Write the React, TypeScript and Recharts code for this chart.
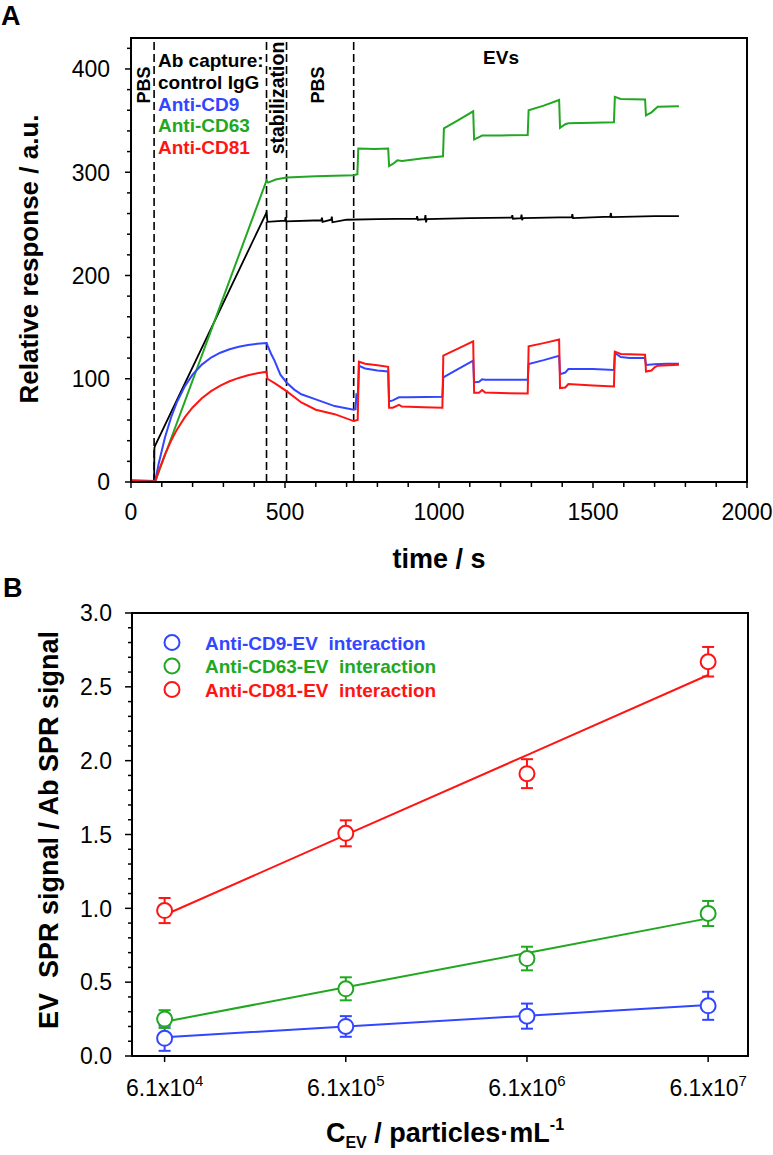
import React from 'react';
import {
  LineChart,
  ComposedChart,
  Line,
  Scatter,
  ErrorBar,
  XAxis,
  YAxis,
  ReferenceLine,
  ReferenceArea,
} from 'recharts';

const BLUE = '#3346ff';
const GREEN = '#22a722';
const RED = '#ff1414';
const FONT = '"Liberation Sans", Arial, sans-serif';

// Panel A: sensorgrams, [time / s, response / a.u.]
const controlIgG: [number, number][] = [
  [0, 0.5], [75, 0.5], [76, 33], [78, 35], [440, 261], [443, 252], [500, 253], [502, 256.5],
  [504, 252.5], [618, 253.5], [620, 256], [622, 252], [650, 254], [652, 257], [654, 251.5],
  [700, 254], [800, 254.5], [927, 255], [929, 257.5], [931, 254], [954, 254.5], [956, 258.5],
  [958, 251.5], [960, 254.5], [1100, 255.5], [1236, 256], [1238, 258.5], [1240, 255],
  [1266, 255.5], [1268, 259], [1270, 253.5], [1272, 255.5], [1431, 256.5], [1433, 259.5],
  [1435, 255.5], [1556, 257], [1558, 260.5], [1560, 256.5], [1700, 257.5], [1779, 257.5],
];

const antiCD63: [number, number][] = [
  [0, 2], [75, 1], [78, 0], [440, 292], [445, 290], [470, 293], [505, 295], [600, 296],
  [723, 297], [735, 298], [738, 323], [790, 322.5], [835, 323], [838, 306], [850, 308],
  [865, 311.5], [880, 311], [950, 313.5], [1013, 315.5], [1016, 342.5], [1060, 350],
  [1111, 359], [1114, 331.7], [1130, 334], [1140, 335.5], [1200, 335.6], [1288, 336],
  [1291, 360], [1340, 364.5], [1390, 370], [1393, 343], [1410, 346.5], [1420, 347.5],
  [1500, 348], [1568, 348.3], [1571, 373], [1590, 371], [1669, 370.5], [1672, 355],
  [1690, 358], [1710, 363.4], [1779, 364],
];

const antiCD9: [number, number][] = [
  [0, 1], [75, 0.5], [78, 0], [90, 18], [110, 42.8], [130, 62.5], [150, 78], [175, 92.9],
  [200, 104], [230, 113.7], [260, 120.5], [290, 125.2], [320, 128.6], [350, 130.9],
  [380, 132.6], [410, 133.8], [440, 134.6], [445, 131], [455, 124], [466, 117.5], [485, 104],
  [505, 96.4], [530, 89.5], [553, 85], [600, 80], [661, 73.5], [723, 70], [729, 70.5],
  [732, 86], [736, 80], [740, 112.6], [760, 110], [800, 108], [835, 107], [838, 78],
  [850, 79], [870, 82], [900, 82], [1011, 82.5], [1014, 101.3], [1060, 109], [1111, 117.5],
  [1114, 96.4], [1130, 97], [1140, 99.5], [1150, 99], [1288, 99], [1291, 114.2], [1340, 118],
  [1390, 122.3], [1393, 104.5], [1410, 106], [1420, 109.4], [1500, 109.4], [1568, 108.4],
  [1571, 124.9], [1590, 121], [1620, 120], [1669, 120], [1672, 113.3], [1700, 114],
  [1740, 114.5], [1779, 114.6],
];

const antiCD81: [number, number][] = [
  [0, 1], [75, 0.5], [78, 0], [90, 10.8], [110, 26.6], [130, 39.9], [150, 51.2], [175, 62.8],
  [200, 72.2], [230, 81.1], [260, 88], [290, 93.4], [320, 97.6], [350, 100.8], [380, 103.3],
  [410, 105.3], [440, 106.8], [443, 100], [470, 95], [505, 88], [553, 77], [600, 70],
  [661, 65.7], [723, 59], [736, 60], [740, 116.5], [760, 114.5], [800, 113], [835, 111.6],
  [838, 72], [850, 72], [870, 74.7], [880, 73], [950, 72.5], [1011, 72], [1014, 122.3],
  [1060, 129], [1111, 136.2], [1114, 86.4], [1130, 86.5], [1140, 89], [1150, 86.6],
  [1200, 86.2], [1288, 85.7], [1291, 131.4], [1340, 134.5], [1390, 137.9], [1393, 91],
  [1410, 91.5], [1420, 94.8], [1500, 93.5], [1568, 92.6], [1571, 126.2], [1590, 124],
  [1669, 123.3], [1672, 107], [1690, 108], [1700, 111], [1710, 112.6], [1779, 113.6],
];

const phaseBoundaries = [75, 440, 505, 723];
const timeTicks = [
  0, 100, 200, 300, 400, 500, 600, 700, 800, 900, 1000, 1100, 1200, 1300, 1400, 1500, 1600,
  1700, 1800, 1900, 2000,
];
const responseTicks = [
  0, 20, 40, 60, 80, 100, 120, 140, 160, 180, 200, 220, 240, 260, 280, 300, 320, 340, 360, 380,
  400, 420,
];

// Panel B: normalised EV signal vs concentration (6.1x10^n particles/mL)
const concExponents = [4, 5, 6, 7];
const cd9Signal = [0.12, 0.2, 0.27, 0.34];
const cd9Error = [0.085, 0.07, 0.085, 0.095];
const cd9Fit = [0.127, 0.2, 0.272, 0.345];
const cd63Signal = [0.25, 0.455, 0.66, 0.965];
const cd63Error = [0.06, 0.078, 0.08, 0.085];
const cd63Fit = [0.232, 0.465, 0.698, 0.932];
const cd81Signal = [0.985, 1.508, 1.912, 2.67];
const cd81Error = [0.085, 0.088, 0.098, 0.1];
const cd81Fit = [0.955, 1.497, 2.038, 2.58];
const ratioTicks = [
  0, 0.1, 0.2, 0.3, 0.4, 0.5, 0.6, 0.7, 0.8, 0.9, 1.0, 1.1, 1.2, 1.3, 1.4, 1.5, 1.6, 1.7, 1.8,
  1.9, 2.0, 2.1, 2.2, 2.3, 2.4, 2.5, 2.6, 2.7, 2.8, 2.9, 3.0,
];

const toPoints = (arr: [number, number][]) => arr.map(([t, v]) => ({ t, v }));

const panelBRows = concExponents.map((x, i) => ({
  x,
  cd9: cd9Signal[i],
  cd9Err: cd9Error[i],
  cd9Fit: cd9Fit[i],
  cd63: cd63Signal[i],
  cd63Err: cd63Error[i],
  cd63Fit: cd63Fit[i],
  cd81: cd81Signal[i],
  cd81Err: cd81Error[i],
  cd81Fit: cd81Fit[i],
}));

function ResponseTick({ x, y, payload }: any) {
  const major = payload.value % 100 === 0;
  return (
    <g>
      <line x1={x - (major ? 6 : 4)} x2={x} y1={y} y2={y} stroke="#000" strokeWidth={1.5} />
      {major && (
        <text x={x - 21} y={y} dy="0.36em" textAnchor="end" fontSize={23} fontFamily={FONT} fill="#000">
          {payload.value}
        </text>
      )}
    </g>
  );
}

function TimeTick({ x, y, payload }: any) {
  const major = payload.value % 500 === 0;
  return (
    <g>
      <line x1={x} x2={x} y1={y} y2={y + (major ? 6 : 5)} stroke="#000" strokeWidth={1.5} />
      {major && (
        <text x={x} y={y + 22} dy="0.71em" textAnchor="middle" fontSize={23} fontFamily={FONT} fill="#000">
          {payload.value}
        </text>
      )}
    </g>
  );
}

function RatioTick({ x, y, payload }: any) {
  const tenths = Math.round(payload.value * 10);
  const major = tenths % 5 === 0;
  return (
    <g>
      <line x1={x - (major ? 7 : 4)} x2={x} y1={y} y2={y} stroke="#000" strokeWidth={1.5} />
      {major && (
        <text x={x - 20} y={y} dy="0.36em" textAnchor="end" fontSize={23} fontFamily={FONT} fill="#000">
          {payload.value.toFixed(1)}
        </text>
      )}
    </g>
  );
}

function ConcTick({ x, y, payload }: any) {
  return (
    <g>
      <line x1={x} x2={x} y1={y} y2={y + 6} stroke="#000" strokeWidth={1.5} />
      <text x={x} y={y + 40} textAnchor="middle" fontSize={23} fontFamily={FONT} fill="#000">
        6.1x10
        <tspan dy={-10} fontSize={15}>
          {payload.value}
        </tspan>
      </text>
    </g>
  );
}

const ring = (color: string) => (p: any) =>
  <circle cx={p.cx} cy={p.cy} r={7.5} fill="#fff" stroke={color} strokeWidth={2} />;

const axisLine = { stroke: '#000', strokeWidth: 2 };

function PanelA() {
  return (
    <LineChart width={773} height={590} margin={{ top: 38, right: 26, left: 0, bottom: 0 }}>
      <XAxis
        type="number"
        dataKey="t"
        domain={[0, 2000]}
        ticks={timeTicks}
        interval={0}
        height={108}
        tickSize={0}
        tickMargin={0}
        tickLine={false}
        tick={<TimeTick />}
        axisLine={axisLine}
        allowDataOverflow
      />
      <YAxis
        type="number"
        domain={[0, 430]}
        ticks={responseTicks}
        interval={0}
        width={131}
        tickSize={0}
        tickMargin={0}
        tickLine={false}
        tick={<ResponseTick />}
        axisLine={axisLine}
        allowDataOverflow
      />
      <ReferenceArea x1={0} x2={2000} y1={0} y2={430} fill="none" stroke="#000" strokeWidth={2} />
      {phaseBoundaries.map((t) => (
        <ReferenceLine key={t} x={t} stroke="#000" strokeWidth={1.6} strokeDasharray="8 4" />
      ))}
      <Line data={toPoints(controlIgG)} dataKey="v" type="linear" stroke="#000" strokeWidth={1.8} dot={false} isAnimationActive={false} />
      <Line data={toPoints(antiCD63)} dataKey="v" type="linear" stroke={GREEN} strokeWidth={2} dot={false} isAnimationActive={false} />
      <Line data={toPoints(antiCD9)} dataKey="v" type="linear" stroke={BLUE} strokeWidth={2} dot={false} isAnimationActive={false} />
      <Line data={toPoints(antiCD81)} dataKey="v" type="linear" stroke={RED} strokeWidth={2} dot={false} isAnimationActive={false} />
    </LineChart>
  );
}

function PanelB() {
  return (
    <ComposedChart width={773} height={565} data={panelBRows} margin={{ top: 23, right: 25, left: 0, bottom: 0 }}>
      <XAxis
        type="number"
        dataKey="x"
        domain={[3.82, 7.22]}
        ticks={concExponents}
        interval={0}
        height={99}
        tickSize={0}
        tickMargin={0}
        tickLine={false}
        tick={<ConcTick />}
        axisLine={axisLine}
        allowDataOverflow
      />
      <YAxis
        type="number"
        domain={[0, 3]}
        ticks={ratioTicks}
        interval={0}
        width={132}
        tickSize={0}
        tickMargin={0}
        tickLine={false}
        tick={<RatioTick />}
        axisLine={axisLine}
        allowDataOverflow
      />
      <ReferenceArea x1={3.82} x2={7.22} y1={0} y2={3} fill="none" stroke="#000" strokeWidth={2} />
      <Line dataKey="cd9Fit" type="linear" stroke={BLUE} strokeWidth={2} dot={false} isAnimationActive={false} />
      <Line dataKey="cd63Fit" type="linear" stroke={GREEN} strokeWidth={2} dot={false} isAnimationActive={false} />
      <Line dataKey="cd81Fit" type="linear" stroke={RED} strokeWidth={2} dot={false} isAnimationActive={false} />
      <Scatter dataKey="cd9" shape={ring(BLUE)} isAnimationActive={false}>
        <ErrorBar dataKey="cd9Err" direction="y" width={6} stroke={BLUE} strokeWidth={2} />
      </Scatter>
      <Scatter dataKey="cd63" shape={ring(GREEN)} isAnimationActive={false}>
        <ErrorBar dataKey="cd63Err" direction="y" width={6} stroke={GREEN} strokeWidth={2} />
      </Scatter>
      <Scatter dataKey="cd81" shape={ring(RED)} isAnimationActive={false}>
        <ErrorBar dataKey="cd81Err" direction="y" width={6} stroke={RED} strokeWidth={2} />
      </Scatter>
    </ComposedChart>
  );
}

const legendB = [
  { label: 'Anti-CD9-EV  interaction', color: BLUE },
  { label: 'Anti-CD63-EV  interaction', color: GREEN },
  { label: 'Anti-CD81-EV  interaction', color: RED },
];

const captureLines = [
  { label: 'Ab capture:', color: '#000' },
  { label: 'control IgG', color: '#000' },
  { label: 'Anti-CD9', color: BLUE },
  { label: 'Anti-CD63', color: GREEN },
  { label: 'Anti-CD81', color: RED },
];

function Annotations() {
  return (
    <svg
      width={773}
      height={1155}
      style={{ position: 'absolute', left: 0, top: 0, pointerEvents: 'none' }}
      fontFamily={FONT}
      fontWeight="bold"
    >
      <text x={1} y={25} fontSize={27}>A</text>
      <text x={3} y={597} fontSize={27}>B</text>

      {/* panel A axis titles */}
      <text transform="translate(38, 259) rotate(-90)" textAnchor="middle" fontSize={26}>
        Relative response / a.u.
      </text>
      <text x={439} y={568} textAnchor="middle" fontSize={27}>time / s</text>

      {/* phase labels */}
      <text transform="translate(150, 85) rotate(-90)" textAnchor="middle" fontSize={18}>PBS</text>
      {captureLines.map((l, i) => (
        <text key={l.label} x={158} y={67 + i * 21.8} fontSize={19} fill={l.color}>
          {l.label}
        </text>
      ))}
      <text transform="translate(284, 98) rotate(-90)" textAnchor="middle" fontSize={19.5}>stabilization</text>
      <text transform="translate(324, 85) rotate(-90)" textAnchor="middle" fontSize={18}>PBS</text>
      <text x={501} y={64} textAnchor="middle" fontSize={19}>EVs</text>

      {/* panel B axis titles */}
      <text transform="translate(58, 830) rotate(-90)" textAnchor="middle" fontSize={27} style={{ whiteSpace: 'pre' }}>
        EV  SPR signal / Ab SPR signal
      </text>
      <text x={445} y={1142} textAnchor="middle" fontSize={27}>
        C<tspan fontSize={16} dy={6}>EV</tspan>
        <tspan dy={-6}> / particles·mL</tspan>
        <tspan fontSize={16} dy={-12}>-1</tspan>
      </text>

      {/* panel B legend */}
      {legendB.map((l, i) => (
        <g key={l.label}>
          <circle cx={172} cy={642.5 + i * 23.5} r={7.5} fill="none" stroke={l.color} strokeWidth={2} />
          <text x={205} y={650 + i * 23.4} fontSize={19} fill={l.color} style={{ whiteSpace: 'pre' }}>
            {l.label}
          </text>
        </g>
      ))}
    </svg>
  );
}

export default function App() {
  return (
    <div
      style={{
        position: 'absolute',
        left: 0,
        top: 0,
        width: 773,
        height: 1155,
        background: '#fff',
        fontFamily: FONT,
      }}
    >
      <div style={{ position: 'absolute', left: 0, top: 0 }}>
        <PanelA />
      </div>
      <div style={{ position: 'absolute', left: 0, top: 590 }}>
        <PanelB />
      </div>
      <Annotations />
    </div>
  );
}
